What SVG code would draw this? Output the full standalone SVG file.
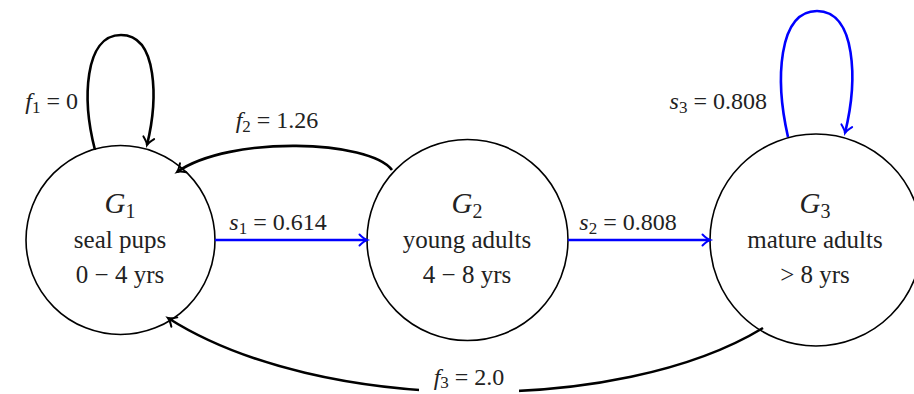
<svg xmlns="http://www.w3.org/2000/svg" width="914" height="394" viewBox="0 0 914 394">
<style>
.node{fill:#fff;stroke:#000;stroke-width:1.6}
.t{font-size:25px;fill:#222;text-anchor:middle}
.g{font-size:29px;font-style:italic;fill:#222;text-anchor:middle}
.lab{font-size:24px;fill:#222}
.it{font-style:italic}
.sub{font-size:17px}
.ek{fill:none;stroke:#000;stroke-width:2.6}
.eb{fill:none;stroke:#0000ff;stroke-width:2.6}
</style>
<defs>
<marker id="ak" markerUnits="userSpaceOnUse" orient="auto" refX="0" refY="0" markerWidth="20" markerHeight="20" overflow="visible">
<path d="M -7.5 -5.5 Q -3 -1 0 0 Q -3 1 -7.5 5.5" fill="none" stroke="#000" stroke-width="2" stroke-linecap="round"/>
</marker>
<marker id="ab" markerUnits="userSpaceOnUse" orient="auto" refX="0" refY="0" markerWidth="20" markerHeight="20" overflow="visible">
<path d="M -7.5 -5.5 Q -3 -1 0 0 Q -3 1 -7.5 5.5" fill="none" stroke="#0000ff" stroke-width="2" stroke-linecap="round"/>
</marker>
</defs>
<g id="G1">
<circle class="node" cx="120.5" cy="240" r="94.5"/>
<text class="g" x="120" y="213" font-family="Liberation Serif" style="font-family:'Liberation Serif',serif">G<tspan font-size="20" font-style="normal" dy="5">1</tspan></text>
<text class="t" x="120" y="248" font-family="Liberation Serif" style="font-family:'Liberation Serif',serif">seal pups</text>
<text class="t" x="120" y="283" font-family="Liberation Serif" style="font-family:'Liberation Serif',serif">0 − 4 yrs</text>
</g>
<g id="G2">
<circle class="node" cx="467.5" cy="240" r="100.5"/>
<text class="g" x="467" y="213" font-family="Liberation Serif" style="font-family:'Liberation Serif',serif">G<tspan font-size="20" font-style="normal" dy="5">2</tspan></text>
<text class="t" x="467" y="248" font-family="Liberation Serif" style="font-family:'Liberation Serif',serif">young adults</text>
<text class="t" x="467" y="283" font-family="Liberation Serif" style="font-family:'Liberation Serif',serif">4 − 8 yrs</text>
</g>
<g id="G3">
<circle class="node" cx="816" cy="240" r="106"/>
<text class="g" x="815" y="213" font-family="Liberation Serif" style="font-family:'Liberation Serif',serif">G<tspan font-size="20" font-style="normal" dy="5">3</tspan></text>
<text class="t" x="815" y="248" font-family="Liberation Serif" style="font-family:'Liberation Serif',serif">mature adults</text>
<text class="t" x="815" y="283" font-family="Liberation Serif" style="font-family:'Liberation Serif',serif">&gt; 8 yrs</text>
</g>
<g id="connectors">
<path class="ek" d="M 95 150 C 82 100, 84 35, 121 35 C 158 35, 158 100, 147 145" marker-end="url(#ak)"/>
<path class="eb" d="M 788 137 C 775 80, 778 11, 817 11 C 856 11, 858 80, 845 133" marker-end="url(#ab)"/>
<path class="ek" d="M 392 170 C 370 140, 230 135, 177 172" marker-end="url(#ak)"/>
<path class="ek" d="M 763 328 C 620 415, 320 415, 168 318" marker-end="url(#ak)"/>
<path class="eb" d="M 215 240 L 367 240" marker-end="url(#ab)"/>
<path class="eb" d="M 568 240 L 710 240" marker-end="url(#ab)"/>
</g>
<g id="labels">
<text class="lab" x="78" y="109" text-anchor="end" font-family="Liberation Serif" style="font-family:'Liberation Serif',serif"><tspan class="it">f</tspan><tspan class="sub" dy="4">1</tspan><tspan dy="-4"> = 0</tspan></text>
<text class="lab" x="277" y="128" text-anchor="middle" font-family="Liberation Serif" style="font-family:'Liberation Serif',serif"><tspan class="it">f</tspan><tspan class="sub" dy="4">2</tspan><tspan dy="-4"> = 1.26</tspan></text>
<text class="lab" x="278" y="230" text-anchor="middle" font-family="Liberation Serif" style="font-family:'Liberation Serif',serif"><tspan class="it">s</tspan><tspan class="sub" dy="4">1</tspan><tspan dy="-4"> = 0.614</tspan></text>
<text class="lab" x="628" y="230" text-anchor="middle" font-family="Liberation Serif" style="font-family:'Liberation Serif',serif"><tspan class="it">s</tspan><tspan class="sub" dy="4">2</tspan><tspan dy="-4"> = 0.808</tspan></text>
<text class="lab" x="767" y="109" text-anchor="end" font-family="Liberation Serif" style="font-family:'Liberation Serif',serif"><tspan class="it">s</tspan><tspan class="sub" dy="4">3</tspan><tspan dy="-4"> = 0.808</tspan></text>
<rect x="419" y="366" width="100" height="28" fill="#fff"/>
<text class="lab" x="469" y="385" text-anchor="middle" font-family="Liberation Serif" style="font-family:'Liberation Serif',serif"><tspan class="it">f</tspan><tspan class="sub" dy="3">3</tspan><tspan dy="-3"> = 2.0</tspan></text>
</g>
</svg>
